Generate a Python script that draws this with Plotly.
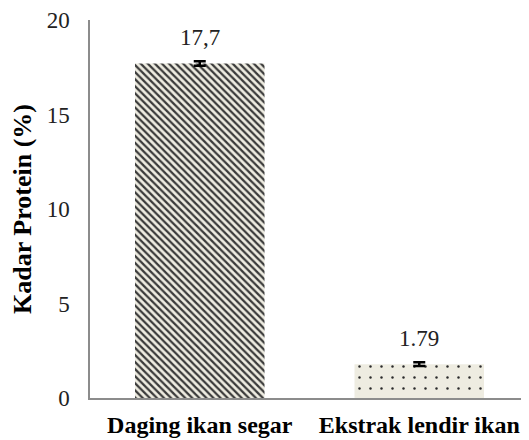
import plotly.graph_objects as go

kategori = ['Daging ikan segar', 'Ekstrak lendir ikan']
kadar_protein = [17.7, 1.79]
galat = [0.12, 0.1]
label_nilai = ['17,7', '1.79']
y_ticks = [0, 5, 10, 15, 20]

serif = 'Liberation Serif'

fig = go.Figure()
fig.add_trace(go.Bar(
    x=kategori,
    y=kadar_protein,
    width=0.59,
    marker=dict(
        color='#EEECE1',
        line=dict(width=0),
        pattern=dict(
            shape=['\\', '.'],
            fgcolor=['#3a3a3a', '#2a2a2a'],
            bgcolor=['#EEECE1', '#EEECE1'],
            size=[5, 11],
            solidity=[0.45, 0.04],
            fillmode='replace',
        ),
    ),
    error_y=dict(type='data', array=galat, visible=True,
                 color='black', thickness=2.5, width=6),
    showlegend=False,
))

# label nilai di atas batang
for k, v, t in zip(kategori, kadar_protein, label_nilai):
    fig.add_annotation(x=k, y=v, text=t, showarrow=False, yshift=26,
                       font=dict(family=serif, size=23, color='#222'))

# halaman punya margin body 8px, jadi ukuran figur dikurangi 8
fig.update_layout(
    width=521, height=432,
    margin=dict(l=82, r=0, t=12, b=42),
    plot_bgcolor='white', paper_bgcolor='white',
    font=dict(family=serif, color='#222'),
    xaxis=dict(
        automargin=False,
        showline=True, linecolor='#8c8c8c', linewidth=1.5,
        showgrid=False, ticks='',
        tickvals=kategori,
        ticktext=[f'<b>{k}</b>' for k in kategori],
        tickfont=dict(family=serif, size=24, color='black'),
        ticklabelstandoff=4,
    ),
    yaxis=dict(
        automargin=False,
        range=[0, 20], tickvals=y_ticks,
        showline=True, linecolor='#8c8c8c', linewidth=1.5,
        showgrid=False, zeroline=False, ticks='',
        tickfont=dict(family=serif, size=23, color='#222'),
        ticklabelstandoff=14,
        title=dict(text='<b>Kadar Protein (%)</b>',
                   font=dict(family=serif, size=26, color='black'),
                   standoff=13),
    ),
)

fig.write_html("out.html")
